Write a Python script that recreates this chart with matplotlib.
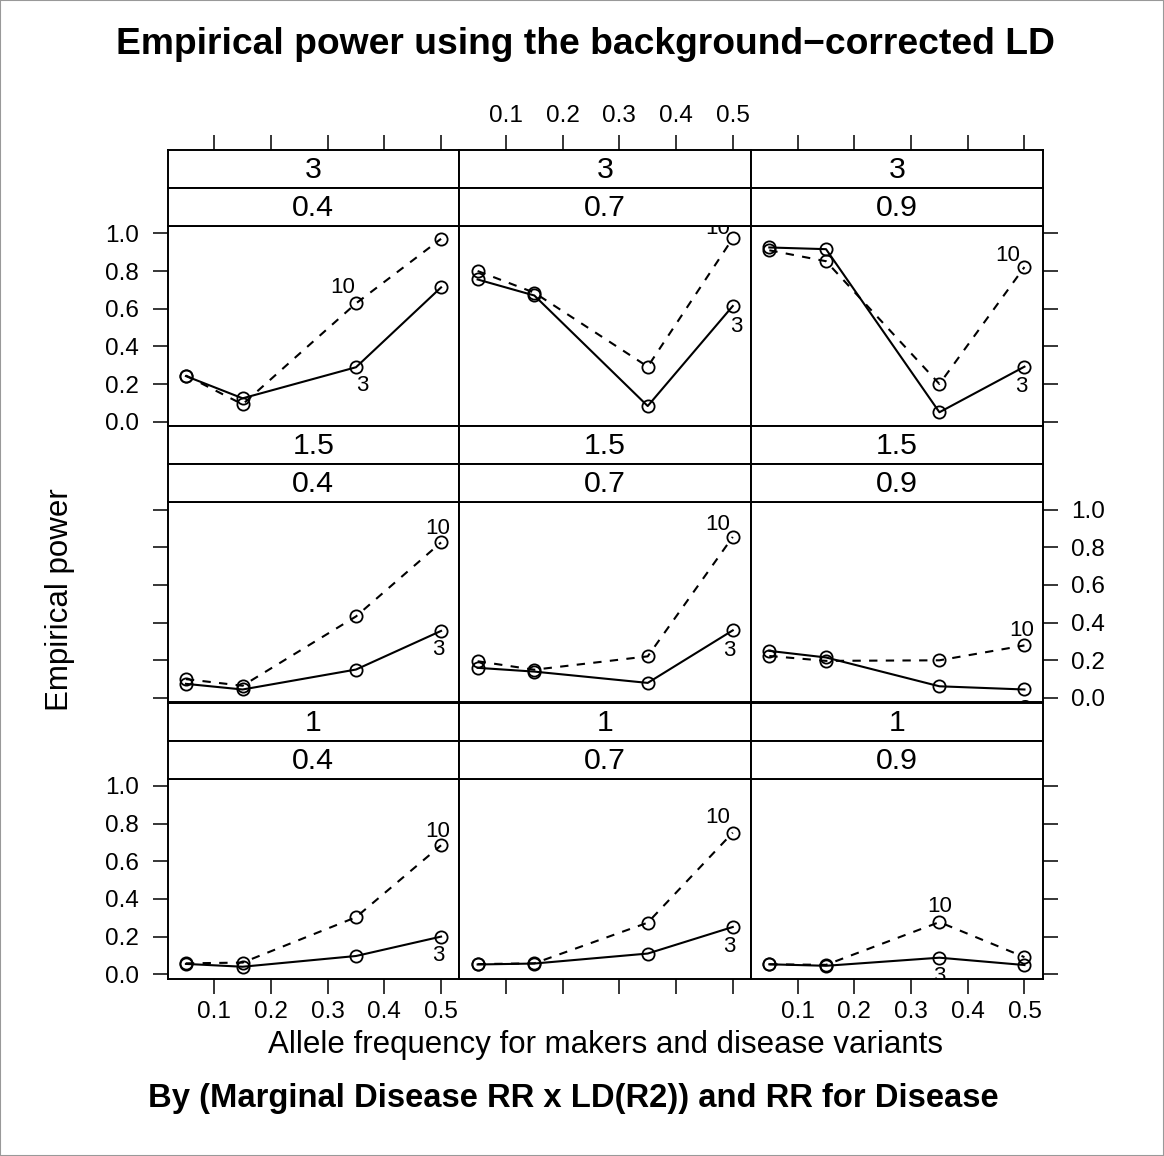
import matplotlib
matplotlib.use("Agg")
import matplotlib.pyplot as plt
from matplotlib.patches import Rectangle

plt.rcParams['font.family'] = ['Liberation Sans', 'DejaVu Sans']

# data: rows = marginal disease RR, cols = LD (R2)
freq = [0.05, 0.15, 0.35, 0.5]
marginal_rr = ['3', '1.5', '1']
ld_r2 = ['0.4', '0.7', '0.9']

# RR for disease = 3 (solid)
power_rr3 = [
    [[0.242, 0.124, 0.289, 0.713], [0.755, 0.670, 0.083, 0.614], [0.925, 0.916, 0.050, 0.292]],
    [[0.075, 0.045, 0.151, 0.356], [0.160, 0.140, 0.080, 0.359], [0.250, 0.215, 0.062, 0.045]],
    [[0.055, 0.040, 0.097, 0.200], [0.052, 0.057, 0.110, 0.251], [0.053, 0.045, 0.088, 0.049]],
]
# RR for disease = 10 (dashed)
power_rr10 = [
    [[0.245, 0.092, 0.628, 0.971], [0.800, 0.685, 0.292, 0.973], [0.910, 0.852, 0.200, 0.821]],
    [[0.100, 0.065, 0.433, 0.826], [0.195, 0.150, 0.221, 0.855], [0.223, 0.197, 0.200, 0.279]],
    [[0.058, 0.062, 0.303, 0.685], [0.054, 0.058, 0.274, 0.752], [0.053, 0.050, 0.277, 0.091]],
]

xticks = [0.1, 0.2, 0.3, 0.4, 0.5]
yticks = [0.0, 0.2, 0.4, 0.6, 0.8, 1.0]

# where the direct labels go: point index and pixel offsets
lab_idx = [[2, 3, 3], [3, 3, 3], [3, 3, 2]]
off10 = [[(-13, 16), (-15, 10), (-17, 12)],
         [(-3, 14), (-15, 12), (-3, 15)],
         [(-3, 14), (-15, 15), (0, 16)]]
off3 = [[(6, -18), (4, -20), (-3, -20)],
        [(-3, -19), (-3, -20), (0, -20)],
        [(-3, -19), (-3, -20), (0, -19)]]

W, H = 1164, 1156
fig = plt.figure(figsize=(W / 100, H / 100), dpi=100)
fig.patches.append(Rectangle((0, 0), 1, 1, transform=fig.transFigure,
                             fill=False, edgecolor='#999999', lw=1.5))


def box(x0, y0, x1, y1):
    return [x0 / W, 1 - y1 / H, (x1 - x0) / W, (y1 - y0) / H]


col_x = [167.5, 459.2, 750.9, 1042.6]
row_top = [150, 426.3, 702.6]
strip_h = 38
lw = 1.4
tick_fs = 17.5
strip_fs = 21.8
lab_fs = 16
xlim = (0.0175, 0.532)

for r in range(3):
    for c in range(3):
        x0, x1 = col_x[c], col_x[c + 1]
        t = row_top[r]
        ax = fig.add_axes(box(x0, t + 2 * strip_h, x1, t + 2 * strip_h + 200))
        ax.plot(freq, power_rr3[r][c], color='black', lw=1.5, marker='o',
                ms=8.8, mfc='none', mew=1.3)
        ax.plot(freq, power_rr10[r][c], color='black', lw=1.5, ls=(0, (4, 4)),
                marker='o', ms=8.8, mfc='none', mew=1.3)
        i = lab_idx[r][c]
        ax.annotate('10', (freq[i], power_rr10[r][c][i]), xytext=off10[r][c],
                    textcoords='offset pixels', ha='center', va='center',
                    fontsize=lab_fs, clip_on=True)
        ax.annotate('3', (freq[i], power_rr3[r][c][i]), xytext=off3[r][c],
                    textcoords='offset pixels', ha='center', va='center',
                    fontsize=lab_fs, clip_on=True)
        ax.set_xlim(*xlim)
        ax.set_ylim(-0.023, 1.039)
        ax.set_xticks(xticks)
        ax.set_xticklabels(['%.1f' % v for v in xticks])
        ax.set_yticks(yticks)
        ax.set_yticklabels(['%.1f' % v for v in yticks])
        for s in ax.spines.values():
            s.set_linewidth(lw)
        ax.tick_params(direction='out', length=10.8, width=1.1, labelsize=tick_fs,
                       top=False, bottom=(r == 2), left=(c == 0), right=(c == 2),
                       labeltop=False,
                       labelbottom=(r == 2 and c != 1),
                       labelleft=(c == 0 and r != 1),
                       labelright=(c == 2 and r == 1))
        ax.tick_params(axis='x', pad=5)
        ax.tick_params(axis='y', pad=10)

        # strips: marginal RR on top, LD below
        for k, txt in enumerate([marginal_rr[r], ld_r2[c]]):
            sax = fig.add_axes(box(x0, t + k * strip_h, x1, t + (k + 1) * strip_h))
            sax.set_xlim(*xlim)
            sax.set_yticks([])
            if r == 0 and k == 0:
                sax.set_xticks(xticks)
                sax.set_xticklabels(['%.1f' % v for v in xticks])
                sax.tick_params(direction='out', length=10.8, width=1.1,
                                labelsize=tick_fs, pad=6, bottom=False,
                                labelbottom=False, top=True, labeltop=(c == 1))
            else:
                sax.set_xticks([])
            for s in sax.spines.values():
                s.set_linewidth(lw)
            sax.text(0.5, 0.47, txt, ha='center', va='center', fontsize=strip_fs,
                     transform=sax.transAxes)

fig.text(585 / W, 1 - 45 / H, 'Empirical power using the background\u2212corrected LD',
         ha='center', va='center', fontsize=26.8, fontweight='bold')
fig.text(605 / W, 1 - 1045 / H, 'Allele frequency for makers and disease variants',
         ha='center', va='center', fontsize=22.5)
fig.text(573 / W, 1 - 1098 / H, 'By (Marginal Disease RR x LD(R2)) and RR for Disease',
         ha='center', va='center', fontsize=23.6, fontweight='bold')
fig.text(60 / W, 1 - 600 / H, 'Empirical power', rotation=90,
         ha='center', va='center', fontsize=22.5)

plt.savefig('out.png', dpi=100)
